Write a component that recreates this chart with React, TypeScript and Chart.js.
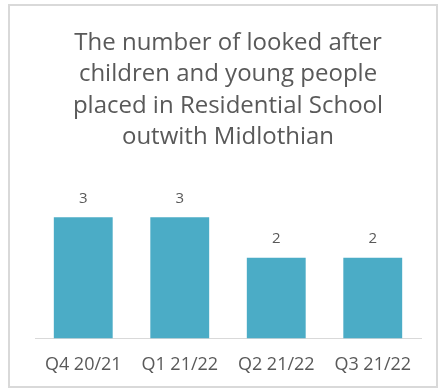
import React, { useEffect, useRef } from "react";
import { Chart, registerables } from "chart.js";

Chart.register(...registerables);

const titleLines = [
  "The number of looked after",
  "children and young people",
  "placed in Residential School",
  "outwith Midlothian",
];
const categories = ["Q4 20/21", "Q1 21/22", "Q2 21/22", "Q3 21/22"];
const placements = [3, 3, 2, 2];

const FONT = "'Open Sans', 'Noto Sans', sans-serif";
const TEXT = "#595959";

const valueLabels = {
  id: "valueLabels",
  afterDatasetsDraw(chart: any) {
    const { ctx } = chart;
    const meta = chart.getDatasetMeta(0);
    ctx.save();
    ctx.fillStyle = TEXT;
    ctx.font = `15px ${FONT}`;
    ctx.textAlign = "center";
    ctx.textBaseline = "middle";
    meta.data.forEach((bar: any, i: number) => {
      ctx.fillText(String(placements[i]), bar.x, bar.y - 19);
    });
    ctx.restore();
  },
};

export default function App() {
  const ref = useRef<HTMLCanvasElement>(null);
  useEffect(() => {
    if (!ref.current) return;
    const chart = new Chart(ref.current, {
      type: "bar",
      data: {
        labels: categories,
        datasets: [
          {
            data: placements,
            backgroundColor: "#4BACC6",
            categoryPercentage: 1,
            barPercentage: 0.61,
          },
        ],
      },
      options: {
        animation: false,
        responsive: false,
        layout: { padding: { left: 35, right: 20, top: 27, bottom: 0 } },
        plugins: {
          legend: { display: false },
          tooltip: { enabled: false },
          title: {
            display: true,
            text: titleLines,
            color: TEXT,
            font: { family: FONT, size: 24, weight: "normal", lineHeight: 1.3125 },
            padding: { top: 0, bottom: 24 },
          },
        },
        scales: {
          x: {
            grid: { display: false, drawTicks: false },
            border: { display: true, color: "#d9d9d9", width: 1 },
            ticks: {
              color: TEXT,
              font: { family: FONT, size: 18 },
              padding: 16,
              maxRotation: 0,
            },
            afterFit: (scale: any) => {
              scale.height -= 3;
            },
          },
          y: { display: false, min: 0, max: 4 },
        },
      },
      plugins: [valueLabels],
    });
    return () => chart.destroy();
  }, []);
  return (
    <div style={{ position: "fixed", left: 0, top: 0, width: 441, height: 389, background: "#fff" }}>
      <div
        style={{
          position: "absolute",
          left: 8,
          top: 4,
          width: 430,
          height: 384,
          boxSizing: "border-box",
          border: "2px solid #d9d9d9",
        }}
      />
      <canvas ref={ref} width={441} height={389} style={{ position: "absolute", left: 0, top: 0 }} />
    </div>
  );
}
